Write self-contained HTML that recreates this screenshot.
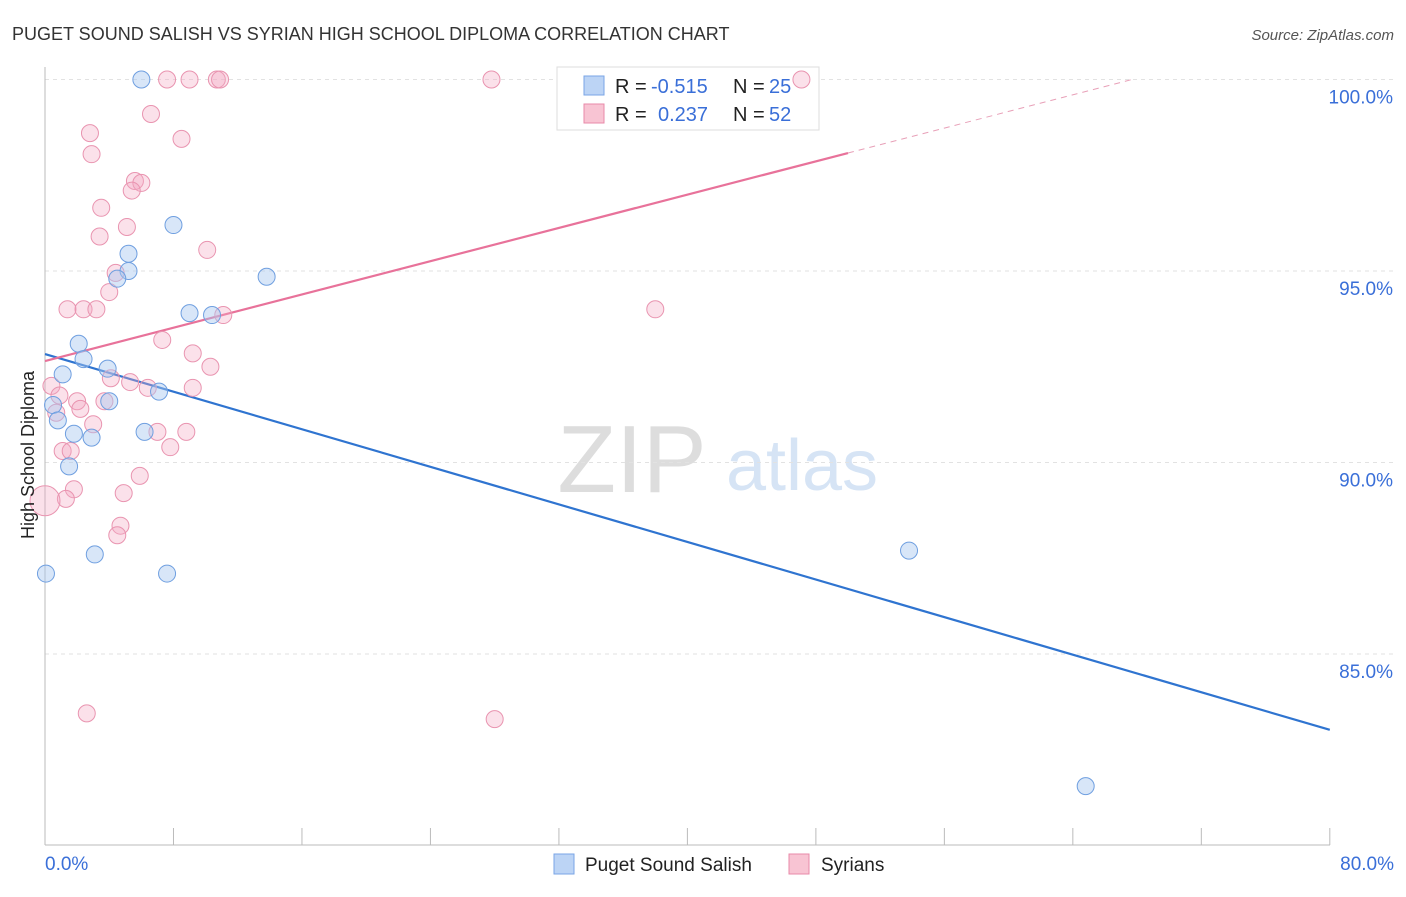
<!DOCTYPE html>
<html><head><meta charset="utf-8"><style>
body{margin:0;background:#fff;font-family:"Liberation Sans",sans-serif;}
svg text{font-family:"Liberation Sans",sans-serif;}
</style></head><body>
<svg id="chart" width="1406" height="892" xmlns="http://www.w3.org/2000/svg">
<text x="12" y="40" font-size="18" fill="#333">PUGET SOUND SALISH VS SYRIAN HIGH SCHOOL DIPLOMA CORRELATION CHART</text>
<text x="1394" y="40" font-size="15" fill="#555" text-anchor="end" font-style="italic">Source: ZipAtlas.com</text>
<g>
<text x="632" y="492" font-size="96" fill="#ddd" text-anchor="middle" font-family="Liberation Serif">ZIP</text>
<text x="802" y="490" font-size="72" fill="#d6e4f5" text-anchor="middle">atlas</text>
</g>
<g id="grid"></g>
<g id="axes"></g>
<g>
<rect x="557" y="67" width="262" height="63" fill="#fff" stroke="#ddd"/>
<rect x="584" y="76" width="20" height="19" fill="#bcd4f5" stroke="#7aa5e6"/>
<rect x="584" y="104" width="20" height="19" fill="#f8c4d3" stroke="#e88aa8"/>
<text x="615" y="93" font-size="20" fill="#222">R =</text>
<text x="651" y="93" font-size="20" fill="#3a6fd8">-0.515</text>
<text x="733" y="93" font-size="20" fill="#222">N =</text>
<text x="769" y="93" font-size="20" fill="#3a6fd8">25</text>
<text x="615" y="121" font-size="20" fill="#222">R =</text>
<text x="658" y="121" font-size="20" fill="#3a6fd8">0.237</text>
<text x="733" y="121" font-size="20" fill="#222">N =</text>
<text x="769" y="121" font-size="20" fill="#3a6fd8">52</text>
</g>
<g id="lines"></g>
<g id="points"></g>
<text transform="translate(34,455) rotate(-90)" font-size="18" fill="#222" text-anchor="middle">High School Diploma</text>
<g>
<rect x="554" y="854" width="20" height="20" fill="#bcd4f5" stroke="#7aa5e6"/>
<text x="585" y="871" font-size="19" fill="#222">Puget Sound Salish</text>
<rect x="789" y="854" width="20" height="20" fill="#f8c4d3" stroke="#e88aa8"/>
<text x="821" y="871" font-size="19" fill="#222">Syrians</text>
</g>
</svg>
<script>
const yTicks=[100,95,90,85];
const yTickLabels=["100.0%","95.0%","90.0%","85.0%"];
const xTickLabels=["0.0%","80.0%"];
const blueX=[6.0,8.0,5.2,5.2,4.5,13.8,9.0,10.4,2.1,2.4,3.9,1.1,7.1,4.0,0.5,0.8,1.8,2.9,6.2,1.5,3.1,0.06,7.6,53.8,64.8];
const blueY=[100,96.2,95.45,95.0,94.8,94.85,93.9,93.85,93.1,92.7,92.45,92.3,91.85,91.6,91.5,91.1,90.75,90.65,90.8,89.9,87.6,87.1,87.1,87.7,81.55];
const pinkX=[7.6,9.0,10.7,10.9,27.8,47.1,6.6,2.8,8.5,2.9,5.6,6.0,5.4,3.5,5.1,3.4,10.1,4.4,4.0,1.4,2.4,3.2,11.1,38.0,7.3,9.2,10.3,4.1,0.4,5.3,6.4,9.2,0.9,2.0,3.7,0.7,2.2,7.0,8.8,7.8,1.1,1.6,5.9,1.8,4.9,1.3,0.0,4.7,4.5,2.6,28.0,3.0];
const pinkY=[100,100,100,100,100,100,99.1,98.6,98.45,98.05,97.35,97.3,97.1,96.65,96.15,95.9,95.55,94.95,94.45,94.0,94.0,94.0,93.85,94.0,93.2,92.85,92.5,92.2,92.0,92.1,91.95,91.95,91.75,91.6,91.6,91.3,91.4,90.8,90.8,90.4,90.3,90.3,89.65,89.3,89.2,89.05,89.0,88.35,88.1,83.45,83.3,91.0];
const blueLine=[92.83,83.02];
const pinkLine=[92.65,98.08];
const X=v=>45+v*16.06, Y=v=>79.5+(100-v)*38.3;
const NS="http://www.w3.org/2000/svg";
function mk(p,t,a){const e=document.createElementNS(NS,t);for(const k in a)e.setAttribute(k,a[k]);document.getElementById(p).appendChild(e);return e;}
yTicks.forEach((t,i)=>{
 const g=mk('grid','line',{x1:45,x2:1394,y1:Y(t),y2:Y(t),stroke:'#e2e2e2','stroke-dasharray':'4,4'});
 
 
 const l=mk('axes','text',{x:1393,y:Y(t)+24,'font-size':19,fill:'#3a6fd8','text-anchor':'end'});
 l.textContent=yTickLabels[i];
 
 
});
const ax=mk('axes','line',{x1:45,x2:1330,y1:845,y2:845,stroke:'#bbb'});


const ay=mk('axes','line',{x1:45,x2:45,y1:67,y2:845,stroke:'#bbb'});


for(let i=0;i<=10;i++){
 const t=mk('axes','line',{x1:X(i*8),x2:X(i*8),y1:828,y2:845,stroke:'#bbb'});
 
 
}
[[0,'start',45],[80,'end',1394]].forEach((d,i)=>{
 const l=mk('axes','text',{x:d[2],y:870,'font-size':19,fill:'#3a6fd8','text-anchor':d[1]});
 l.textContent=xTickLabels[i];
 
 
});
pinkX.forEach((x,i)=>{
 const c=mk('points','circle',{cx:X(x),cy:Y(pinkY[i]),r:(x===0?15:8.5),fill:'rgba(244,170,195,0.35)',stroke:'#e994b0','stroke-width':1});
 
 
});
blueX.forEach((x,i)=>{
 const c=mk('points','circle',{cx:X(x),cy:Y(blueY[i]),r:8.5,fill:'rgba(169,200,240,0.45)',stroke:'#6f9fe0','stroke-width':1});
 
 
});
const bl=mk('lines','line',{x1:X(0),y1:Y(blueLine[0]),x2:X(80),y2:Y(blueLine[1]),stroke:'#2f74d0','stroke-width':2.2});


const pf=x=>pinkLine[0]+(pinkLine[1]-pinkLine[0])*x/50;
const pl=mk('lines','line',{x1:X(0),y1:Y(pf(0)),x2:X(50),y2:Y(pf(50)),stroke:'#e8729a','stroke-width':2.2});


const xe=(100-pinkLine[0])*50/(pinkLine[1]-pinkLine[0]);
const pd=mk('lines','line',{x1:X(50),y1:Y(pf(50)),x2:X(xe),y2:Y(100),stroke:'#e8a0b8','stroke-width':1,'stroke-dasharray':'6,5'});


</script>
</body></html>
